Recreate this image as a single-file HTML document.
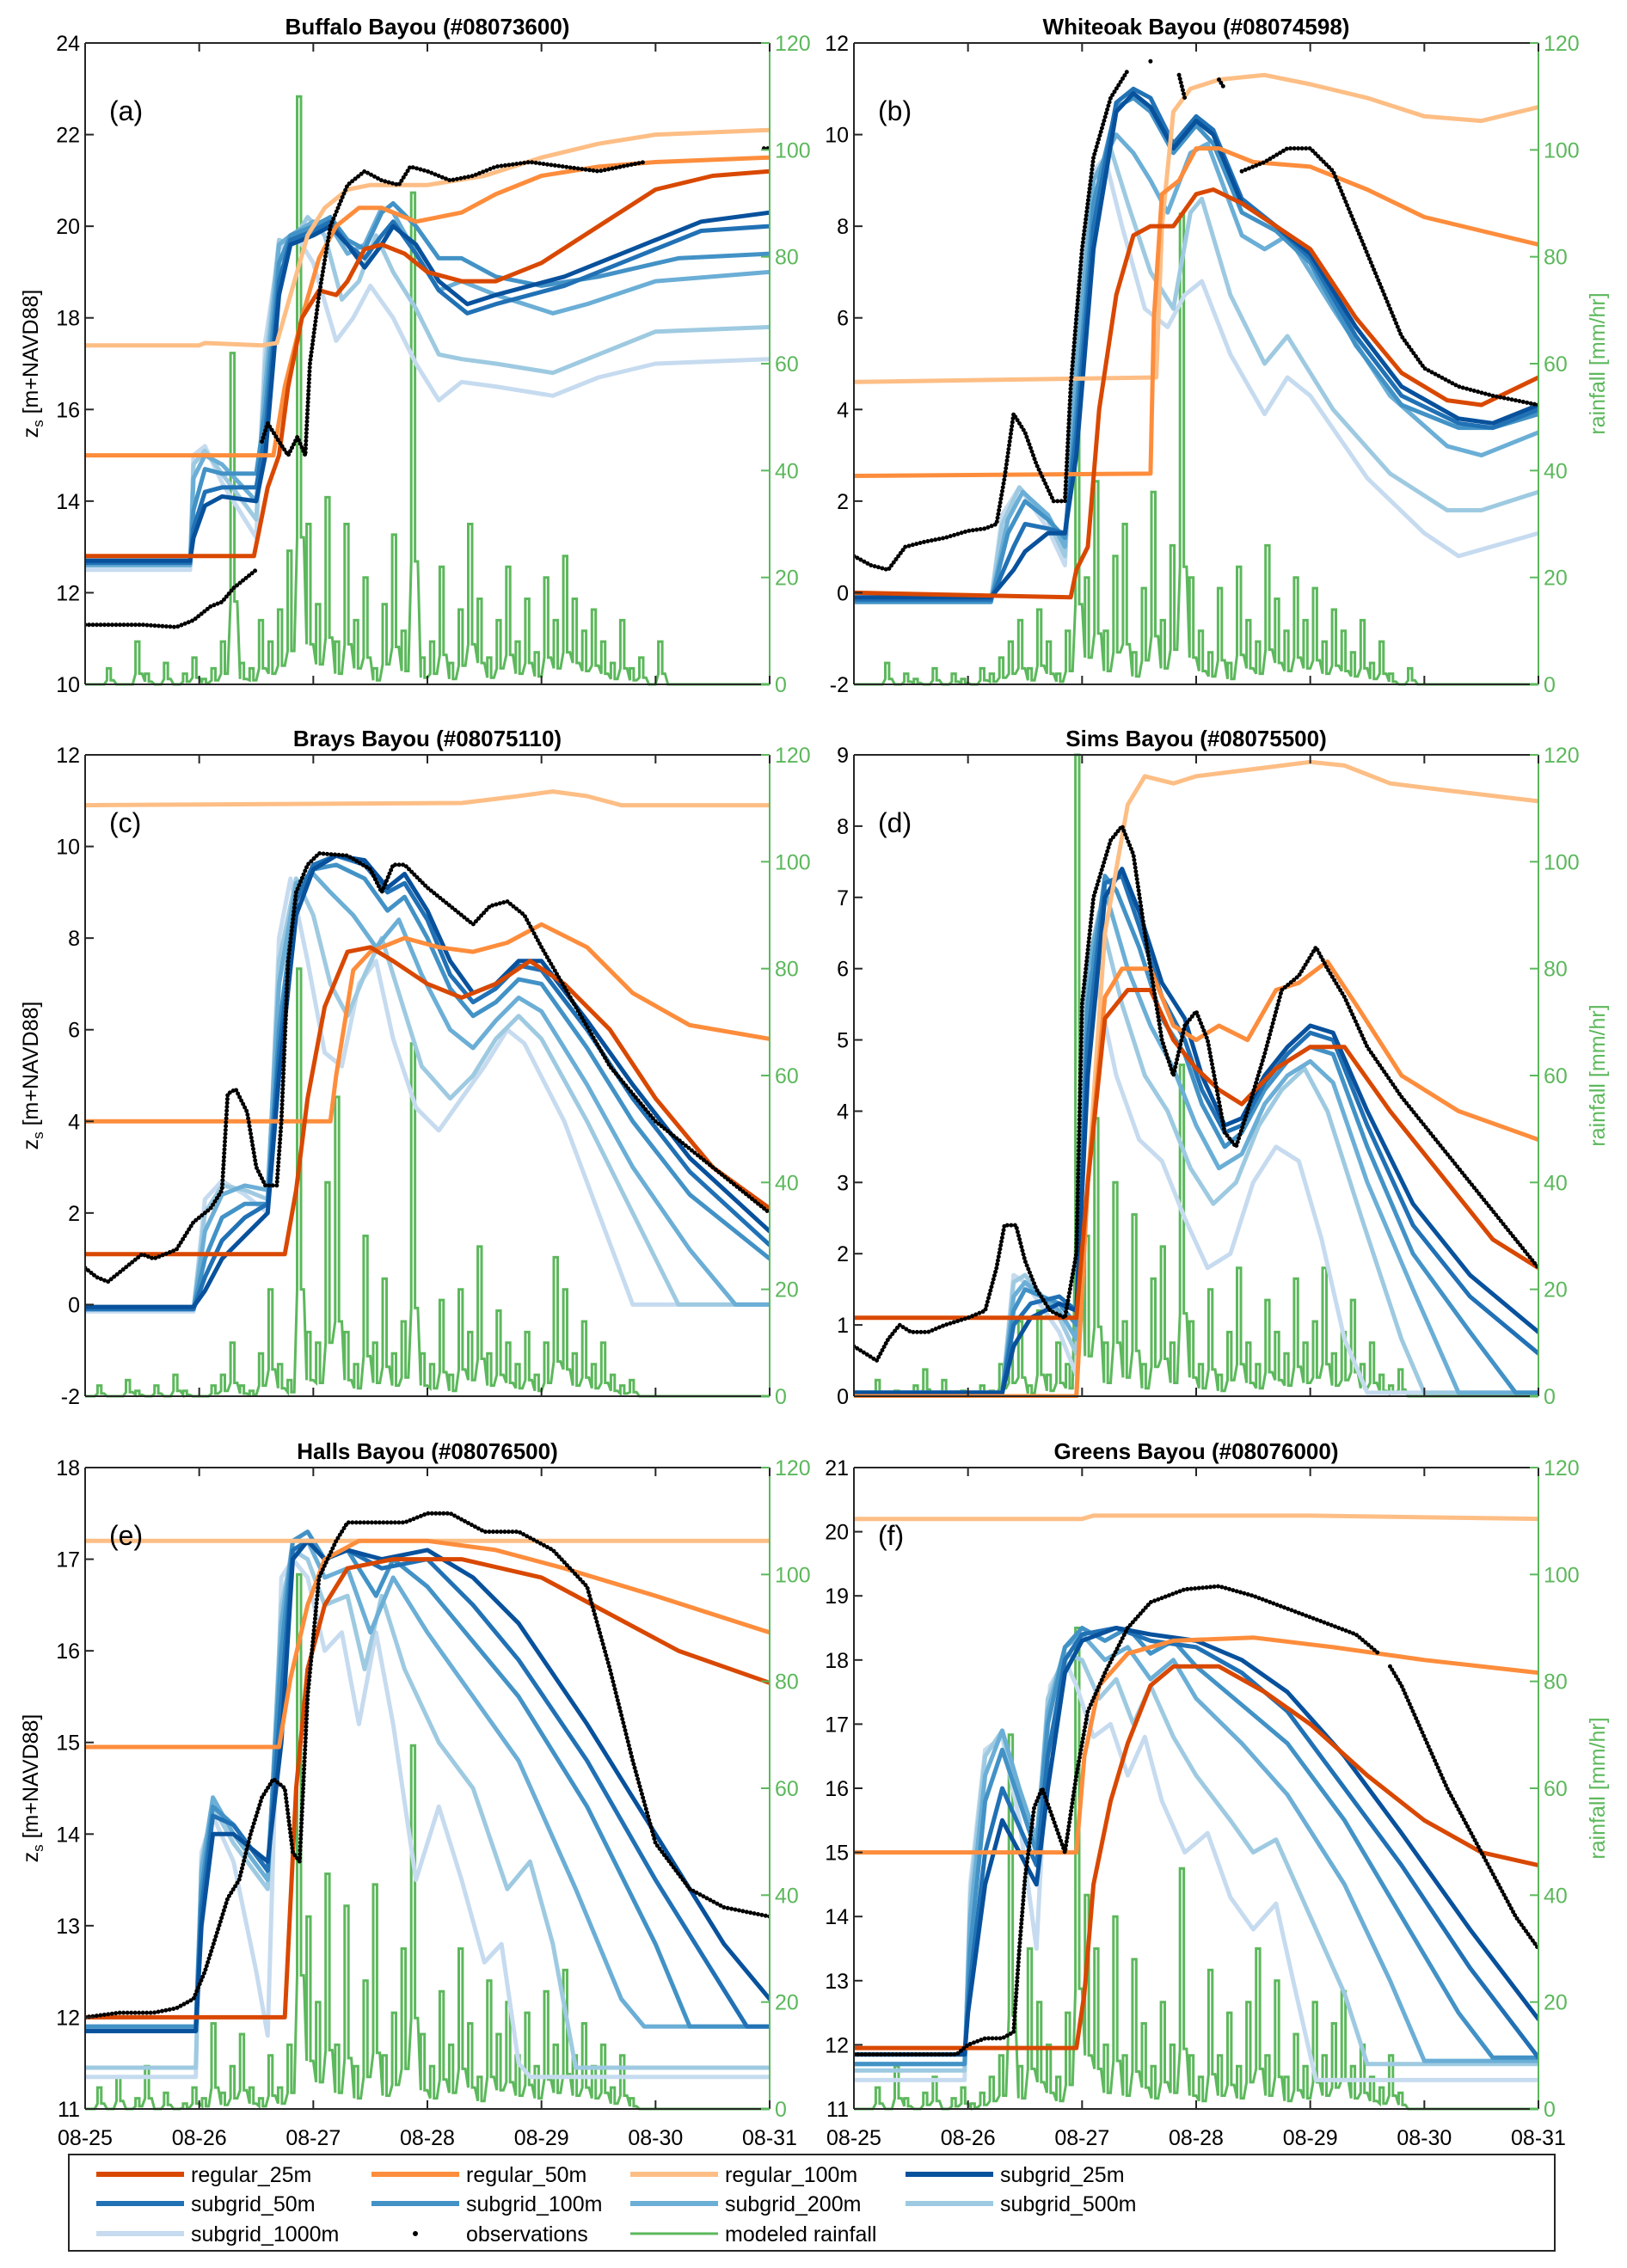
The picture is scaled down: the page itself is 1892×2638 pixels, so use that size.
<!DOCTYPE html>
<html><head><meta charset="utf-8"><style>
html,body{margin:0;padding:0;background:#fff}
svg{display:block;font-family:"Liberation Sans",sans-serif}
</style></head><body>
<svg id="fig" xmlns="http://www.w3.org/2000/svg" width="1892" height="2638" viewBox="0 0 1892 2638"></svg>
<script>
// ---------- data ----------
const dateLabels = ["08-25","08-26","08-27","08-28","08-29","08-30","08-31"];
const rainTicks = [0,20,40,60,80,100,120];
const panelTitles = ["Buffalo Bayou (#08073600)","Whiteoak Bayou (#08074598)","Brays Bayou (#08075110)","Sims Bayou (#08075500)","Halls Bayou (#08076500)","Greens Bayou (#08076000)"];
const panelLetters = ["(a)","(b)","(c)","(d)","(e)","(f)"];
const yMin = [10,-2,-2,0,11,11];
const yMax = [24,12,12,9,18,21];
const yStep = [2,2,2,1,1,1];
const seriesNames = ["regular_25m","regular_50m","regular_100m","subgrid_25m","subgrid_50m","subgrid_100m","subgrid_200m","subgrid_500m","subgrid_1000m"];

// panel (a)
const a_reg25=[[0,12.8],[1.48,12.8],[1.52,13.3],[1.6,14.3],[1.7,15.0],[1.78,16.5],[1.9,18.0],[2.05,18.6],[2.2,18.5],[2.3,18.8],[2.45,19.5],[2.6,19.6],[2.8,19.4],[3.0,19.0],[3.3,18.8],[3.6,18.8],[4.0,19.2],[4.5,20.0],[5.0,20.8],[5.5,21.1],[6,21.2]];
const a_reg50=[[0,15.0],[1.65,15.0],[1.75,16.5],[1.9,18.0],[2.05,19.3],[2.2,20.0],[2.4,20.4],[2.6,20.4],[2.9,20.1],[3.3,20.3],[3.6,20.7],[4.0,21.1],[4.5,21.3],[5.0,21.4],[6,21.5]];
const a_reg100=[[0,17.4],[1.0,17.4],[1.05,17.45],[1.55,17.4],[1.68,17.45],[1.8,18.5],[1.95,19.8],[2.1,20.4],[2.3,20.8],[2.5,20.9],[3.0,20.9],[3.5,21.1],[4.0,21.5],[4.5,21.8],[5.0,22.0],[6,22.1]];
const a_sg25=[[0,12.7],[0.92,12.7],[0.95,13.2],[1.05,13.9],[1.2,14.1],[1.5,14.0],[1.58,15],[1.7,18.5],[1.8,19.6],[2.0,19.8],[2.15,20.0],[2.3,19.6],[2.45,19.1],[2.6,19.6],[2.7,20.0],[2.9,19.6],[3.1,18.8],[3.35,18.3],[3.6,18.5],[4.2,18.9],[4.8,19.5],[5.4,20.1],[6,20.3]];
const a_sg50=[[0,12.65],[0.92,12.65],[0.95,13.4],[1.05,14.2],[1.2,14.3],[1.5,14.3],[1.58,15.5],[1.7,18.8],[1.8,19.7],[2.0,19.9],[2.15,20.1],[2.3,19.6],[2.45,19.3],[2.6,19.8],[2.7,20.1],[2.9,19.4],[3.1,18.6],[3.35,18.1],[3.6,18.3],[4.2,18.7],[4.8,19.3],[5.4,19.9],[6,20.0]];
const a_sg100=[[0,12.7],[0.92,12.7],[0.95,13.8],[1.05,14.7],[1.2,14.6],[1.5,14.6],[1.58,16],[1.7,19.2],[1.8,19.8],[2.0,20.0],[2.15,20.2],[2.3,19.7],[2.45,19.5],[2.6,20.3],[2.7,20.5],[2.9,20.0],[3.1,19.3],[3.3,19.3],[3.6,18.9],[4.0,18.7],[4.5,18.9],[5.2,19.3],[6,19.4]];
const a_sg200=[[0,12.6],[0.92,12.6],[0.95,14.5],[1.05,15.0],[1.2,14.8],[1.5,14.0],[1.58,16.5],[1.7,19.6],[1.8,19.8],[2.0,20.1],[2.15,20.0],[2.3,19.4],[2.45,19.6],[2.6,20.4],[2.7,20.3],[2.9,19.4],[3.1,18.6],[3.3,18.8],[3.6,18.5],[4.1,18.1],[4.4,18.3],[5.0,18.8],[6,19.0]];
const a_sg500=[[0,12.6],[0.92,12.6],[0.95,14.8],[1.05,15.1],[1.2,14.6],[1.5,13.6],[1.58,17],[1.7,19.7],[1.8,19.6],[1.95,20.2],[2.1,19.8],[2.25,18.4],[2.4,18.8],[2.55,19.8],[2.7,19.0],[2.9,18.2],[3.1,17.2],[3.3,17.1],[3.6,17.0],[4.1,16.8],[4.5,17.2],[5.0,17.7],[6,17.8]];
const a_sg1000=[[0,12.5],[0.92,12.5],[0.95,15.0],[1.05,15.2],[1.2,14.4],[1.5,13.2],[1.58,17.5],[1.7,19.5],[1.85,19.8],[2.0,19.2],[2.2,17.5],[2.35,18.0],[2.5,18.7],[2.7,18.0],[2.9,17.0],[3.1,16.2],[3.3,16.6],[3.6,16.5],[4.1,16.3],[4.5,16.7],[5.0,17.0],[6,17.1]];
const a_obs=[[0,11.3],[0.5,11.3],[0.8,11.25],[0.95,11.4],[1.1,11.7],[1.2,11.8],[1.3,12.1],[1.4,12.3],[1.5,12.5],null,[1.55,15.3],[1.6,15.7],[1.7,15.3],[1.78,15.0],[1.86,15.4],[1.93,15.0],[1.97,17.0],[2.05,18.5],[2.15,20.0],[2.3,20.9],[2.45,21.2],[2.6,21.0],[2.75,20.9],[2.85,21.3],[3.0,21.2],[3.2,21.0],[3.4,21.1],[3.6,21.3],[3.9,21.4],[4.2,21.3],[4.5,21.2],[4.9,21.4],null,[5.95,21.7],[6,21.7]];
const a_rain=[0,0,3,0,0,8,2,0,4,0,2,5, 1,3,8,62,4,3,12,8,14,25,110,30, 15,35,8,30,12,20,3,15,28,10,92,5, 8,22,4,14,30,16,5,12,22,8,16,6, 20,12,24,16,10,14,8,4,12,3,5,0, 8,0,0,0,0,0,0,0,0,0,0,0];

// panel (b)
const b_reg25=[[0,0],[1.9,-0.1],[1.95,0.5],[2.05,1.0],[2.15,4],[2.3,6.5],[2.45,7.8],[2.6,8.0],[2.8,8.0],[3.0,8.7],[3.15,8.8],[3.4,8.5],[3.7,8.0],[4.0,7.5],[4.4,6.0],[4.8,4.8],[5.2,4.2],[5.5,4.1],[6,4.7]];
const b_reg50=[[0,2.55],[2.6,2.6],[2.63,6],[2.7,8.7],[2.85,9.0],[3.0,9.7],[3.2,9.7],[3.5,9.4],[4.0,9.3],[4.5,8.8],[5.0,8.2],[5.5,7.9],[6,7.6]];
const b_reg100=[[0,4.6],[2.65,4.7],[2.7,8],[2.8,10.5],[2.95,11.0],[3.2,11.2],[3.6,11.3],[4.0,11.1],[4.5,10.8],[5.0,10.4],[5.5,10.3],[6,10.6]];
const b_sg25=[[0,-0.1],[1.2,-0.1],[1.4,0.5],[1.5,0.9],[1.7,1.3],[1.85,1.3],[1.95,3],[2.1,7.5],[2.3,10.5],[2.45,10.9],[2.6,10.6],[2.8,9.7],[3.0,10.3],[3.15,10.0],[3.4,8.5],[3.7,8.0],[4.0,7.4],[4.4,5.8],[4.8,4.5],[5.3,3.8],[5.6,3.7],[6,4.1]];
const b_sg50=[[0,-0.15],[1.2,-0.15],[1.4,1.0],[1.5,1.5],[1.7,1.4],[1.85,1.3],[1.95,3.5],[2.1,8],[2.3,10.7],[2.45,11.0],[2.6,10.8],[2.8,9.8],[3.0,10.4],[3.15,10.1],[3.4,8.6],[3.7,8.0],[4.0,7.3],[4.4,5.6],[4.8,4.3],[5.3,3.7],[5.6,3.6],[6,4.0]];
const b_sg100=[[0,-0.2],[1.2,-0.2],[1.35,1.3],[1.5,2.0],[1.7,1.6],[1.85,1.2],[1.95,4],[2.1,8.5],[2.3,10.6],[2.45,10.8],[2.6,10.5],[2.8,9.6],[3.0,10.2],[3.15,9.8],[3.4,8.3],[3.7,7.9],[4.0,7.2],[4.4,5.4],[4.8,4.1],[5.3,3.6],[5.6,3.6],[6,3.9]];
const b_sg200=[[0,-0.2],[1.2,-0.2],[1.35,1.6],[1.48,2.2],[1.7,1.7],[1.85,1.0],[1.95,5],[2.1,9],[2.3,10.0],[2.45,9.6],[2.6,9.0],[2.75,8.3],[2.95,9.6],[3.1,9.8],[3.4,7.8],[3.6,7.5],[3.8,7.8],[4.2,6.2],[4.7,4.3],[5.2,3.2],[5.5,3.0],[6,3.5]];
const b_sg500=[[0,-0.2],[1.2,-0.2],[1.3,1.5],[1.45,2.3],[1.7,1.6],[1.85,0.8],[1.95,5.5],[2.1,9],[2.25,9.7],[2.4,8.5],[2.6,7.0],[2.8,6.2],[2.95,8.3],[3.05,8.6],[3.3,6.5],[3.6,5.0],[3.8,5.6],[4.2,4.0],[4.7,2.6],[5.2,1.8],[5.5,1.8],[6,2.2]];
const b_sg1000=[[0,-0.2],[1.2,-0.2],[1.3,1.7],[1.45,2.3],[1.7,1.4],[1.85,0.6],[1.95,6],[2.1,9.2],[2.2,9.5],[2.35,8.0],[2.55,6.2],[2.75,5.8],[2.9,6.5],[3.05,6.8],[3.3,5.2],[3.6,3.9],[3.8,4.7],[4.0,4.3],[4.5,2.5],[5.0,1.3],[5.3,0.8],[6,1.3]];
const b_obs=[[0,0.8],[0.15,0.6],[0.3,0.5],[0.45,1.0],[0.6,1.1],[0.8,1.2],[1.0,1.35],[1.15,1.4],[1.25,1.5],[1.32,2.5],[1.4,3.9],[1.5,3.5],[1.6,2.8],[1.75,2.0],[1.85,2.0],[1.9,4.5],[2.0,7.5],[2.1,9.5],[2.25,10.8],[2.4,11.4],null,[2.6,11.6],[2.62,11.55],null,[2.85,11.3],[2.9,10.8],null,[3.2,11.2],[3.25,11.0],null,[3.4,9.2],[3.6,9.4],[3.8,9.7],[4.0,9.7],[4.2,9.2],[4.4,8.0],[4.6,6.8],[4.8,5.6],[5.0,4.9],[5.3,4.5],[5.6,4.3],[6,4.1]];
const b_rain=[0,0,0,4,0,2,1,0,3,0,2,1, 0,3,2,5,8,12,3,14,8,2,10,60, 20,38,10,24,30,6,18,36,12,26,88,20, 10,6,18,4,22,12,8,26,16,10,20,12, 18,8,14,10,6,12,4,8,2,0,3,0, 0,0,0,0,0,0,0,0,0,0,0,0];

// panel (c)
const c_reg25=[[0,1.1],[1.75,1.1],[1.85,2.5],[1.95,4.5],[2.1,6.5],[2.3,7.7],[2.5,7.8],[2.7,7.5],[3.0,7.0],[3.3,6.7],[3.6,7.0],[3.9,7.5],[4.2,7.0],[4.6,6.0],[5.0,4.5],[5.5,3.0],[6,2.1]];
const c_reg50=[[0,4.0],[2.15,4.0],[2.2,5],[2.35,7.3],[2.5,7.7],[2.8,8.0],[3.1,7.8],[3.4,7.7],[3.7,7.9],[4.0,8.3],[4.4,7.8],[4.8,6.8],[5.3,6.1],[6,5.8]];
const c_reg100=[[0,10.9],[3.3,10.95],[3.8,11.1],[4.1,11.2],[4.4,11.1],[4.7,10.9],[6,10.9]];
const c_sg25=[[0,-0.05],[0.95,-0.05],[1.05,0.3],[1.2,1.0],[1.4,1.5],[1.6,2.0],[1.7,5],[1.85,8.5],[2.0,9.5],[2.2,9.8],[2.45,9.7],[2.65,9.1],[2.8,9.4],[3.0,8.6],[3.2,7.5],[3.4,6.8],[3.6,7.0],[3.8,7.5],[4.0,7.5],[4.4,6.2],[4.8,4.8],[5.3,3.2],[6,1.6]];
const c_sg50=[[0,-0.1],[0.95,-0.1],[1.05,0.6],[1.2,1.4],[1.4,1.9],[1.6,2.2],[1.7,5.5],[1.85,8.8],[2.0,9.6],[2.2,9.8],[2.45,9.6],[2.65,9.0],[2.8,9.2],[3.0,8.4],[3.2,7.2],[3.4,6.6],[3.6,6.9],[3.8,7.4],[4.0,7.3],[4.4,6.0],[4.8,4.5],[5.3,2.9],[6,1.3]];
const c_sg100=[[0,-0.1],[0.95,-0.1],[1.05,1.0],[1.2,1.9],[1.4,2.2],[1.6,2.2],[1.7,6],[1.85,9.0],[2.0,9.5],[2.2,9.6],[2.45,9.3],[2.65,8.6],[2.8,8.9],[3.0,8.0],[3.2,6.9],[3.4,6.3],[3.6,6.6],[3.8,7.1],[4.0,7.0],[4.4,5.6],[4.8,4.0],[5.3,2.4],[6,1.0]];
const c_sg200=[[0,-0.1],[0.95,-0.1],[1.05,1.6],[1.2,2.4],[1.4,2.6],[1.6,2.5],[1.7,7],[1.85,9.2],[2.0,9.4],[2.15,9.0],[2.35,8.5],[2.55,7.8],[2.75,8.4],[2.95,7.2],[3.2,6.0],[3.4,5.6],[3.6,6.2],[3.8,6.7],[4.0,6.4],[4.4,4.8],[4.8,3.0],[5.3,1.2],[5.7,0],[6,0]];
const c_sg500=[[0,-0.1],[0.95,-0.1],[1.05,2.0],[1.2,2.6],[1.4,2.5],[1.6,2.3],[1.7,7.5],[1.85,9.3],[2.0,8.5],[2.15,7.0],[2.3,6.3],[2.45,7.2],[2.6,8.0],[2.75,6.8],[2.95,5.2],[3.2,4.5],[3.4,5.0],[3.6,5.8],[3.8,6.3],[4.0,5.8],[4.4,4.0],[4.8,2.0],[5.2,0],[6,0]];
const c_sg1000=[[0,-0.15],[0.95,-0.15],[1.05,2.3],[1.2,2.7],[1.4,2.4],[1.6,2.0],[1.7,8],[1.8,9.3],[1.95,7.5],[2.1,5.5],[2.25,5.2],[2.4,7.0],[2.55,7.5],[2.7,5.8],[2.9,4.3],[3.1,3.8],[3.3,4.5],[3.5,5.2],[3.7,6.0],[3.85,5.7],[4.2,4.0],[4.5,2.0],[4.8,0],[6,0]];
const c_obs=[[0,0.8],[0.1,0.6],[0.2,0.5],[0.35,0.8],[0.5,1.1],[0.6,1.0],[0.8,1.2],[0.95,1.8],[1.1,2.1],[1.2,2.5],[1.25,4.6],[1.32,4.7],[1.42,4.2],[1.5,3.0],[1.58,2.6],[1.68,2.6],[1.72,4],[1.78,7.5],[1.85,9.0],[1.95,9.6],[2.05,9.85],[2.3,9.8],[2.5,9.5],[2.6,9.0],[2.7,9.6],[2.8,9.6],[3.0,9.1],[3.2,8.7],[3.4,8.3],[3.55,8.7],[3.7,8.8],[3.85,8.5],[4.0,7.8],[4.3,6.5],[4.6,5.2],[5.0,4.0],[5.5,3.0],[6,2.0]];
const c_rain=[0,2,0,0,3,1,0,2,0,4,1,0, 0,2,4,10,2,1,8,20,6,3,80,12, 10,40,56,12,6,30,10,22,8,14,66,8, 6,18,4,20,12,28,8,16,10,6,12,4, 10,26,20,8,14,6,10,4,2,3,0,0, 0,0,0,0,0,0,0,0,0,0,0,0];

// panel (d)
const d_reg25=[[0,1.1],[1.95,1.1],[2.05,3],[2.2,5.3],[2.4,5.7],[2.6,5.7],[2.8,5.0],[3.0,4.6],[3.2,4.3],[3.4,4.1],[3.7,4.6],[4.0,4.9],[4.3,4.9],[4.7,4.0],[5.2,3.0],[5.6,2.2],[6,1.8]];
const d_reg50=[[0,0],[1.95,0],[2.05,3],[2.2,5.6],[2.35,6.0],[2.6,6.0],[2.8,5.2],[3.0,5.0],[3.2,5.2],[3.45,5.0],[3.7,5.7],[3.9,5.8],[4.15,6.1],[4.4,5.5],[4.8,4.5],[5.3,4.0],[6,3.6]];
const d_reg100=[[0,0],[1.95,0],[2.05,3],[2.2,6.5],[2.4,8.3],[2.55,8.7],[2.8,8.6],[3.0,8.7],[3.5,8.8],[4.0,8.9],[4.3,8.85],[4.7,8.6],[5.2,8.5],[6,8.35]];
const d_sg25=[[0,0.05],[1.3,0.05],[1.4,0.7],[1.55,1.1],[1.8,1.3],[1.95,1.2],[2.05,4.5],[2.2,7.0],[2.35,7.4],[2.5,6.8],[2.7,5.8],[2.9,5.3],[3.05,4.5],[3.25,3.8],[3.4,3.9],[3.6,4.5],[3.8,4.9],[4.0,5.2],[4.2,5.1],[4.5,4.0],[4.9,2.7],[5.4,1.7],[6,0.9]];
const d_sg50=[[0,0.05],[1.3,0.05],[1.4,1.0],[1.55,1.3],[1.8,1.4],[1.95,1.2],[2.05,5],[2.2,7.2],[2.35,7.3],[2.5,6.6],[2.7,5.6],[2.9,5.0],[3.05,4.3],[3.25,3.7],[3.4,3.8],[3.6,4.4],[3.8,4.8],[4.0,5.1],[4.2,5.0],[4.5,3.8],[4.9,2.4],[5.4,1.4],[6,0.6]];
const d_sg100=[[0,0.05],[1.3,0.05],[1.4,1.2],[1.5,1.5],[1.8,1.3],[1.95,1.0],[2.05,5.5],[2.2,7.3],[2.3,7.1],[2.5,6.3],[2.7,5.3],[2.9,4.8],[3.05,4.1],[3.25,3.5],[3.4,3.7],[3.6,4.3],[3.8,4.7],[4.0,4.9],[4.2,4.8],[4.5,3.5],[4.9,2.0],[5.4,0.9],[5.8,0.05],[6,0.05]];
const d_sg200=[[0,0.05],[1.3,0.05],[1.4,1.4],[1.5,1.6],[1.8,1.2],[1.95,0.8],[2.05,6],[2.2,7.1],[2.4,6.0],[2.6,5.2],[2.8,4.6],[3.0,3.8],[3.2,3.2],[3.4,3.4],[3.6,4.1],[3.8,4.5],[4.0,4.7],[4.2,4.4],[4.5,3.0],[4.9,1.5],[5.3,0.05],[6,0.05]];
const d_sg500=[[0,0.05],[1.3,0.05],[1.4,1.6],[1.5,1.7],[1.8,1.1],[1.95,0.6],[2.05,6],[2.15,6.8],[2.35,5.5],[2.55,4.5],[2.75,4.0],[2.95,3.2],[3.15,2.7],[3.35,3.0],[3.55,3.8],[3.75,4.3],[3.95,4.6],[4.15,4.0],[4.45,2.5],[4.8,0.8],[5.0,0.05],[6,0.05]];
const d_sg1000=[[0,0.05],[1.3,0.05],[1.4,1.7],[1.5,1.6],[1.8,0.9],[1.95,0.3],[2.02,5.5],[2.1,6.0],[2.3,4.5],[2.5,3.6],[2.7,3.3],[2.9,2.5],[3.1,1.8],[3.3,2.0],[3.5,3.0],[3.7,3.5],[3.9,3.3],[4.1,2.2],[4.3,0.8],[4.5,0.05],[6,0.05]];
const d_obs=[[0,0.7],[0.1,0.6],[0.2,0.5],[0.3,0.8],[0.4,1.0],[0.5,0.9],[0.65,0.9],[0.8,1.0],[1.0,1.1],[1.15,1.2],[1.25,1.8],[1.32,2.4],[1.42,2.4],[1.5,1.9],[1.6,1.5],[1.72,1.2],[1.85,1.1],[1.95,2.0],[2.0,5.5],[2.1,7.0],[2.25,7.8],[2.35,8.0],[2.45,7.6],[2.55,6.5],[2.7,5.0],[2.8,4.5],[2.9,5.2],[3.0,5.4],[3.1,5.0],[3.25,3.7],[3.35,3.5],[3.45,4.0],[3.6,4.8],[3.75,5.7],[3.9,5.9],[4.05,6.3],[4.15,6.0],[4.3,5.6],[4.5,4.9],[4.8,4.2],[5.1,3.6],[5.5,2.8],[6,1.8]];
const d_rain=[0,0,3,0,1,0,2,5,0,3,0,1, 0,2,1,6,10,14,2,16,4,10,6,120, 30,52,10,40,14,34,6,22,28,10,62,14, 6,20,4,12,24,10,6,18,12,8,22,10, 14,24,8,12,18,6,10,4,2,5,0,0, 0,0,0,0,0,0,0,0,0,0,0,0];

// panel (e)
const e_reg25=[[0,12.0],[1.75,12.0],[1.85,14.5],[1.95,15.8],[2.1,16.5],[2.3,16.9],[2.7,17.0],[3.3,17.0],[4.0,16.8],[4.6,16.4],[5.2,16.0],[6,15.65]];
const e_reg50=[[0,14.95],[1.7,14.95],[1.8,15.7],[1.95,16.5],[2.1,17.0],[2.4,17.2],[3.0,17.2],[3.6,17.1],[4.2,16.9],[5.0,16.6],[6,16.2]];
const e_reg100=[[0,17.2],[3.0,17.2],[6,17.2]];
const e_sg25=[[0,11.85],[0.97,11.85],[1.02,13.0],[1.12,14.0],[1.3,14.0],[1.6,13.7],[1.72,15],[1.82,17.0],[1.95,17.2],[2.1,17.0],[2.3,17.1],[2.6,17.0],[3.0,17.1],[3.4,16.8],[3.8,16.3],[4.4,15.2],[5.0,14.0],[5.6,12.8],[6,12.2]];
const e_sg50=[[0,11.85],[0.97,11.85],[1.02,13.2],[1.12,14.2],[1.3,14.1],[1.6,13.6],[1.72,15.5],[1.82,17.1],[1.95,17.2],[2.1,17.0],[2.3,17.1],[2.6,16.9],[3.0,17.0],[3.4,16.5],[3.8,15.9],[4.4,14.8],[5.0,13.5],[5.6,12.3],[5.8,11.9],[6,11.9]];
const e_sg100=[[0,11.9],[0.97,11.9],[1.02,13.4],[1.12,14.3],[1.3,14.1],[1.6,13.6],[1.72,16],[1.82,17.2],[1.95,17.3],[2.1,17.0],[2.3,17.1],[2.55,16.6],[2.7,17.0],[3.0,16.7],[3.4,16.1],[3.8,15.5],[4.4,14.3],[5.0,12.8],[5.3,11.9],[6,11.9]];
const e_sg200=[[0,11.9],[0.97,11.9],[1.02,13.6],[1.12,14.4],[1.3,14.0],[1.6,13.5],[1.72,16.3],[1.82,17.2],[1.95,17.2],[2.1,16.8],[2.3,16.9],[2.5,16.2],[2.7,16.8],[3.0,16.2],[3.4,15.5],[3.8,14.8],[4.3,13.4],[4.7,12.2],[4.9,11.9],[6,11.9]];
const e_sg500=[[0,11.45],[0.97,11.45],[1.02,13.7],[1.12,14.3],[1.3,13.9],[1.6,13.4],[1.72,16.5],[1.82,17.1],[1.95,17.0],[2.1,16.5],[2.3,16.6],[2.45,15.8],[2.6,16.6],[2.8,15.8],[3.1,15.0],[3.4,14.5],[3.7,13.4],[3.9,13.7],[4.1,12.8],[4.3,11.45],[6,11.45]];
const e_sg1000=[[0,11.35],[0.97,11.35],[1.02,13.8],[1.12,14.2],[1.3,13.7],[1.5,12.5],[1.6,11.8],[1.72,16.8],[1.82,17.0],[1.95,16.8],[2.1,16.0],[2.25,16.2],[2.4,15.2],[2.55,16.2],[2.7,15.2],[2.9,13.5],[3.1,14.3],[3.3,13.5],[3.5,12.6],[3.65,12.8],[3.8,11.5],[3.9,11.35],[6,11.35]];
const e_obs=[[0,12.0],[0.3,12.05],[0.6,12.05],[0.8,12.1],[0.95,12.2],[1.05,12.5],[1.15,12.9],[1.25,13.3],[1.35,13.5],[1.45,14.0],[1.55,14.4],[1.65,14.6],[1.75,14.5],[1.82,13.8],[1.88,13.7],[1.95,15.5],[2.05,16.8],[2.2,17.2],[2.3,17.4],[2.5,17.4],[2.8,17.4],[3.0,17.5],[3.2,17.5],[3.5,17.3],[3.8,17.3],[4.1,17.1],[4.4,16.7],[4.6,15.8],[4.8,14.8],[5.0,13.9],[5.3,13.4],[5.6,13.2],[6,13.1]];
const e_rain=[0,4,0,6,0,2,8,0,3,0,1,4, 2,16,3,8,14,4,2,10,4,12,100,36, 20,44,12,38,8,24,42,10,18,30,68,14, 8,22,12,30,16,6,24,14,20,10,18,8, 22,12,26,10,16,8,12,4,10,2,0,0, 0,0,0,0,0,0,0,0,0,0,0,0];

// panel (f)
const f_reg25=[[0,11.95],[1.95,11.95],[2.02,12.8],[2.1,14.5],[2.25,15.8],[2.4,16.7],[2.6,17.6],[2.8,17.9],[3.2,17.9],[3.6,17.5],[4.0,17.0],[4.5,16.2],[5.0,15.5],[5.5,15.0],[6,14.8]];
const f_reg50=[[0,15.0],[1.95,15.0],[2.02,16.5],[2.15,17.6],[2.4,18.1],[2.8,18.3],[3.5,18.35],[4.2,18.2],[5.0,18.0],[6,17.8]];
const f_reg100=[[0,20.2],[2.0,20.2],[2.1,20.25],[4.0,20.25],[6,20.2]];
const f_sg25=[[0,11.85],[0.97,11.85],[1.0,12.5],[1.15,14.5],[1.3,15.5],[1.45,15.0],[1.6,14.5],[1.7,16],[1.85,17.8],[2.0,18.3],[2.3,18.5],[2.6,18.4],[3.0,18.3],[3.4,18.0],[3.8,17.5],[4.3,16.5],[4.8,15.3],[5.4,13.8],[6,12.4]];
const f_sg50=[[0,11.85],[0.97,11.85],[1.02,13.0],[1.15,15.0],[1.3,16.0],[1.45,15.4],[1.6,14.8],[1.7,16.5],[1.85,18.0],[2.0,18.4],[2.3,18.5],[2.6,18.3],[3.0,18.2],[3.4,17.8],[3.8,17.2],[4.3,16.0],[4.8,14.8],[5.4,13.2],[6,11.8]];
const f_sg100=[[0,11.7],[0.97,11.7],[1.02,13.5],[1.15,15.8],[1.3,16.6],[1.45,15.8],[1.6,15.0],[1.7,17],[1.85,18.2],[2.0,18.5],[2.2,18.3],[2.4,18.5],[2.6,18.1],[2.8,18.3],[3.0,17.9],[3.4,17.3],[3.8,16.7],[4.3,15.5],[4.8,14.0],[5.3,12.5],[5.6,11.8],[6,11.8]];
const f_sg200=[[0,11.7],[0.97,11.7],[1.02,14.0],[1.15,16.2],[1.3,16.9],[1.45,16.0],[1.6,15.2],[1.7,17.2],[1.85,18.2],[2.0,18.4],[2.2,18.0],[2.4,18.2],[2.6,17.7],[2.8,18.0],[3.0,17.4],[3.4,16.7],[3.8,15.9],[4.3,14.5],[4.7,13.0],[5.0,11.75],[6,11.75]];
const f_sg500=[[0,11.6],[0.97,11.6],[1.02,14.3],[1.15,16.5],[1.3,16.9],[1.45,15.8],[1.6,15.0],[1.7,17.4],[1.85,18.1],[2.0,18.0],[2.15,17.4],[2.3,17.7],[2.45,17.0],[2.6,17.6],[2.8,16.8],[3.0,16.2],[3.3,15.5],[3.5,15.0],[3.7,15.2],[4.0,14.0],[4.3,12.8],[4.5,11.7],[6,11.7]];
const f_sg1000=[[0,11.45],[0.97,11.45],[1.02,14.5],[1.15,16.6],[1.3,16.8],[1.45,15.5],[1.6,13.5],[1.72,17.6],[1.85,18.0],[1.95,17.6],[2.1,16.8],[2.25,17.0],[2.4,16.2],[2.55,16.8],[2.7,15.8],[2.9,15.0],[3.1,15.3],[3.3,14.3],[3.5,13.8],[3.7,14.2],[3.85,13.0],[4.05,11.45],[6,11.45]];
const f_obs=[[0,11.85],[0.5,11.85],[0.9,11.85],[1.0,12.0],[1.15,12.1],[1.3,12.1],[1.4,12.2],[1.45,13.5],[1.5,14.6],[1.58,15.7],[1.65,16.0],[1.75,15.5],[1.85,15.0],[1.95,16.2],[2.05,17.2],[2.2,17.8],[2.4,18.5],[2.6,18.9],[2.9,19.1],[3.2,19.15],[3.5,19.0],[3.8,18.8],[4.1,18.6],[4.4,18.4],[4.6,18.1],null,[4.7,17.9],[4.8,17.6],[5.0,16.8],[5.2,16.0],[5.5,15.0],[5.8,14.0],[6,13.5]];
const f_rain=[0,0,4,0,8,2,0,3,6,0,2,4, 1,3,6,10,70,8,30,20,12,6,18,90, 40,30,12,36,10,28,16,8,20,12,45,10, 6,26,10,18,8,20,30,10,24,6,14,8, 20,10,16,22,8,12,6,4,10,3,0,0, 0,0,0,0,0,0,0,0,0,0,0,0];

const panelSeries = [
  [a_reg25,a_reg50,a_reg100,a_sg25,a_sg50,a_sg100,a_sg200,a_sg500,a_sg1000],
  [b_reg25,b_reg50,b_reg100,b_sg25,b_sg50,b_sg100,b_sg200,b_sg500,b_sg1000],
  [c_reg25,c_reg50,c_reg100,c_sg25,c_sg50,c_sg100,c_sg200,c_sg500,c_sg1000],
  [d_reg25,d_reg50,d_reg100,d_sg25,d_sg50,d_sg100,d_sg200,d_sg500,d_sg1000],
  [e_reg25,e_reg50,e_reg100,e_sg25,e_sg50,e_sg100,e_sg200,e_sg500,e_sg1000],
  [f_reg25,f_reg50,f_reg100,f_sg25,f_sg50,f_sg100,f_sg200,f_sg500,f_sg1000]];
const panelObs = [a_obs,b_obs,c_obs,d_obs,e_obs,f_obs];
const panelRain = [a_rain,b_rain,c_rain,d_rain,e_rain,f_rain];

// ---------- style / layout ----------
const colors = ["#d94801","#fd8d3c","#fdbe85","#08519c","#2171b5","#4292c6","#6baed6","#9ecae1","#c6dbef"];
const RAIN = "#5cb85c";
const colX = [99, 993], rowY = [50, 878, 1707], W = 796, H = 746;
const NS = "http://www.w3.org/2000/svg";
const svg = document.getElementById("fig");
function mk(tag, attrs, parent) {
  const e = document.createElementNS(NS, tag);
  for (const k in attrs) e.setAttribute(k, attrs[k]);
  (parent || svg).appendChild(e);
  return e;
}
function pathFrom(pts, sx, sy) {
  let d = "", pen = false;
  for (const p of pts) {
    if (!p) { pen = false; continue; }
    d += (pen ? "L" : "M") + sx(p[0]).toFixed(1) + "," + sy(p[1]).toFixed(1);
    pen = true;
  }
  return d;
}

for (let i = 0; i < 6; i++) {
  const col = i % 2, row = Math.floor(i / 2);
  const L = colX[col], T = rowY[row], R = L + W, B = T + H;
  const sx = t => L + t / 6 * W;
  const sy = v => B - (v - yMin[i]) / (yMax[i] - yMin[i]) * H;
  const sr = r => B - r / 120 * H;
  const g = mk("g", {});
  
  
  const clip = mk("clipPath", {id: "clip" + i}, g);
  mk("rect", {x: L, y: T - 2, width: W, height: H + 4}, clip);
  const plot = mk("g", {"clip-path": "url(#clip" + i + ")"}, g);

  // rainfall as narrow hourly-like pulses
  const rain = panelRain[i];
  const dt = 6 / rain.length;
  let d = "M" + sx(0) + "," + sr(0);
  for (let k = 0; k < rain.length; k++) {
    const t0 = k * dt, ta = t0 + dt * 0.3, tb = t0 + dt * 0.7, t1 = (k + 1) * dt;
    const lo = rain[k] * 0.25;
    d += "L" + sx(ta).toFixed(1) + "," + sr(lo).toFixed(1) +
         "L" + sx(ta).toFixed(1) + "," + sr(rain[k]).toFixed(1) +
         "L" + sx(tb).toFixed(1) + "," + sr(rain[k]).toFixed(1) +
         "L" + sx(tb).toFixed(1) + "," + sr(lo).toFixed(1) +
         "L" + sx(t1).toFixed(1) + "," + sr(lo).toFixed(1);
  }
  const rp = mk("path", {d: d, fill: "none", stroke: RAIN, "stroke-width": 3, "stroke-linejoin": "miter"}, plot);
  
  

  const order = [8,7,6,5,4,3,2,1,0];
  for (const s of order) {
    const p = mk("path", {d: pathFrom(panelSeries[i][s], sx, sy), fill: "none", stroke: colors[s], "stroke-width": 5, "stroke-linejoin": "round", "stroke-linecap": "round"}, plot);
    
    
  }
  const ob = mk("path", {d: pathFrom(panelObs[i], sx, sy), fill: "none", stroke: "#000", "stroke-width": 5, "stroke-linecap": "round", "stroke-dasharray": "0 4.5"}, plot);
  
  

  mk("line", {x1: L, y1: T, x2: R, y2: T, stroke: "#262626", "stroke-width": 2}, g);
  mk("line", {x1: L, y1: B, x2: R, y2: B, stroke: "#262626", "stroke-width": 2}, g);
  const la = mk("line", {x1: L, y1: T, x2: L, y2: B, stroke: "#262626", "stroke-width": 2}, g);
  
  
  const ra = mk("line", {x1: R, y1: T, x2: R, y2: B, stroke: RAIN, "stroke-width": 2}, g);
  
  

  for (let k = 0; k <= 6; k++) {
    const x = sx(k);
    mk("line", {x1: x, y1: B, x2: x, y2: B - 10, stroke: "#262626", "stroke-width": 2}, g);
    mk("line", {x1: x, y1: T, x2: x, y2: T + 10, stroke: "#262626", "stroke-width": 2}, g);
    if (row === 2) {
      const t = mk("text", {x: x, y: B + 42, "text-anchor": "middle", "font-size": 25, fill: "#000"}, g);
      t.textContent = dateLabels[k];
      
      
    }
  }
  for (let v = yMin[i]; v <= yMax[i] + 1e-9; v += yStep[i]) {
    const y = sy(v);
    mk("line", {x1: L, y1: y, x2: L + 10, y2: y, stroke: "#262626", "stroke-width": 2}, g);
    const t = mk("text", {x: L - 6, y: y + 9, "text-anchor": "end", "font-size": 25, fill: "#000"}, g);
    t.textContent = String(v);
    
    
  }
  for (const r of rainTicks) {
    const y = sr(r);
    mk("line", {x1: R, y1: y, x2: R - 10, y2: y, stroke: RAIN, "stroke-width": 2}, g);
    const t = mk("text", {x: R + 6, y: y + 9, "text-anchor": "start", "font-size": 25, fill: RAIN}, g);
    t.textContent = String(r);
    
    
  }
  const tt = mk("text", {x: L + W / 2, y: T - 10, "text-anchor": "middle", "font-size": 26, "font-weight": "bold", fill: "#000"}, g);
  tt.textContent = panelTitles[i];
  
  
  const lt = mk("text", {x: L + 28, y: T + 90, "font-size": 32, fill: "#000"}, g);
  lt.textContent = panelLetters[i];
  
  
  if (col === 0) {
    const yl = mk("text", {transform: "translate(44," + (T + H / 2) + ") rotate(-90)", "text-anchor": "middle", "font-size": 25, fill: "#000"}, g);
    yl.innerHTML = 'z<tspan font-size="17" dy="6">s</tspan><tspan dy="-6"> [m+NAVD88]</tspan>';
    
    
  } else {
    const rl = mk("text", {transform: "translate(1866," + (T + H / 2) + ") rotate(-90)", "text-anchor": "middle", "font-size": 25, fill: RAIN}, g);
    rl.textContent = "rainfall [mm/hr]";
    
    
  }
}

// ---------- legend ----------
const legendLabels = ["regular_25m","regular_50m","regular_100m","subgrid_25m","subgrid_50m","subgrid_100m","subgrid_200m","subgrid_500m","subgrid_1000m","observations","modeled rainfall"];
const lg = mk("g", {});


mk("rect", {x: 80, y: 2506, width: 1728, height: 112, fill: "#fff", stroke: "#262626", "stroke-width": 2}, lg);
const legColX = [112, 432, 733, 1053];
const legRowY = [2529, 2563, 2598];
legendLabels.forEach((lab, k) => {
  const cx = legColX[k % 4], cy = legRowY[Math.floor(k / 4)];
  const e = mk("g", {}, lg);
  
  
  if (k < 9) mk("line", {x1: cx, y1: cy, x2: cx + 102, y2: cy, stroke: colors[k], "stroke-width": 6}, e);
  else if (k === 9) mk("circle", {cx: cx + 51, cy: cy, r: 3, fill: "#000"}, e);
  else mk("line", {x1: cx, y1: cy, x2: cx + 102, y2: cy, stroke: RAIN, "stroke-width": 3}, e);
  const t = mk("text", {x: cx + 110, y: cy + 9, "font-size": 25, fill: "#000"}, e);
  t.textContent = lab;
});
</script>
</body></html>
